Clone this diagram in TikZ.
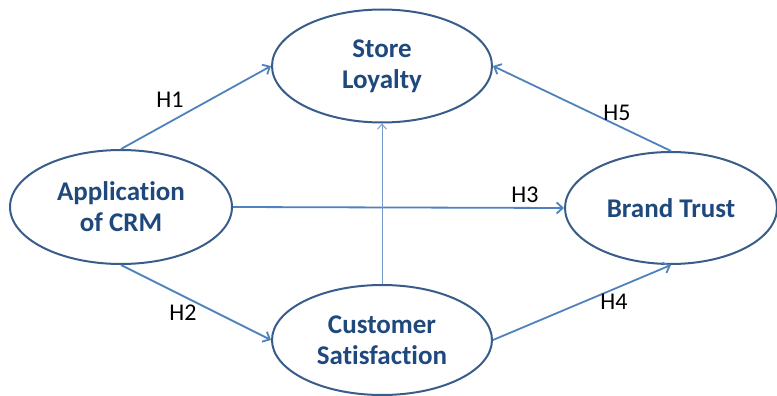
\documentclass[tikz,border=0pt]{standalone}
\usepackage{fontspec}
\setmainfont[Ligatures=NoCommon]{Carlito}
\usetikzlibrary{shapes.geometric,arrows.meta}
\definecolor{edgeblue}{HTML}{385D8A}
\definecolor{arrowblue}{HTML}{4F81BD}
\definecolor{textblue}{HTML}{1F497D}
\begin{document}
\begin{tikzpicture}[x=1pt,y=-1pt,
  construct/.style={ellipse,draw=edgeblue,line width=2pt,fill=white,inner sep=0pt,
    font=\fontsize{27}{31}\selectfont\bfseries,text=textblue},
  twoline/.style={construct,align=center},
  link/.style={draw=arrowblue,line width=1.8pt,-{Straight Barb[length=6pt,width=11pt]}},
  thinlink/.style={draw=arrowblue!80,line width=0.9pt,-{Straight Barb[length=5pt,width=9pt]}},
  hyp/.style={font=\fontsize{24}{28}\selectfont,text=black,inner sep=0pt}]
\useasboundingbox (0,0) rectangle (777,396);
\node[twoline,minimum width=220pt,minimum height=113pt] (sl) at (382,66) {Store\\Loyalty};
\node[twoline,minimum width=222pt,minimum height=114pt] (crm) at (121,207) {Application\\of CRM};
\node[twoline,minimum width=220pt,minimum height=110pt] (cs) at (382,340) {Customer\\Satisfaction};
\node[construct,minimum width=212pt,minimum height=112pt] (bt) at (671,208) {Brand Trust};
\draw[link] (crm.north) -- (sl.west);
\draw[link] (crm.south) -- (cs.west);
\draw[link] (crm.east) -- (bt.west);
\draw[link] (cs.east) -- (bt.south);
\draw[link] (bt.north) -- (sl.east);
\draw[thinlink] (cs.north) -- (sl.south);
\node[hyp] (h1) at (170,100) {H1};
\node[hyp] (h2) at (183,313) {H2};
\node[hyp] (h3) at (525,195) {H3};
\node[hyp] (h4) at (614,302) {H4};
\node[hyp] (h5) at (617,113) {H5};
\end{tikzpicture}
\end{document}
